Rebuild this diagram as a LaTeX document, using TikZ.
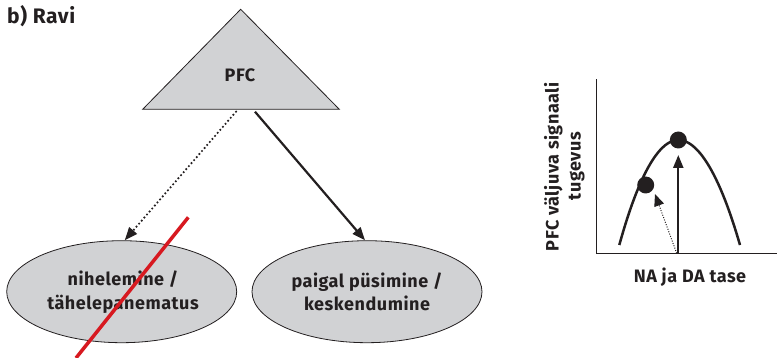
\documentclass[tikz,border=0pt]{standalone}
\usepackage{fontspec}
\setmainfont{Fira Sans}
\newfontfamily\lblfont[LetterSpace=3]{Fira Sans}
\usetikzlibrary{arrows.meta,shapes.geometric}
\definecolor{fillgray}{HTML}{D1D2D4}
\definecolor{txt}{HTML}{231F20}
\definecolor{crossred}{HTML}{D71920}
\tikzset{
  lbl/.style={text=txt,font=\lblfont\fontsize{18}{23.5}\selectfont\bfseries,align=center,inner sep=0pt},
  bubble/.style={ellipse,draw=txt,line width=0.8pt,fill=fillgray,minimum width=230pt,minimum height=102pt,inner sep=0pt},
  solidarr/.style={draw=txt,line width=2.2pt,-{Triangle[length=13pt,width=10pt]}},
  dotarr/.style={draw=txt,line width=2.4pt,line cap=round,dash pattern=on 0pt off 4pt,-{Triangle[length=13pt,width=10pt]}},
  dot/.style={circle,fill=txt,minimum size=17pt,inner sep=0pt}
}
\begin{document}
\begin{tikzpicture}[x=1pt,y=-1pt]
\useasboundingbox (0,0) rectangle (777,358);
% title
\node[lbl,anchor=base west,font=\lblfont\fontsize{21}{24}\selectfont\bfseries] (title) at (7,24) {b) Ravi};
% triangle
\draw[draw=txt,line width=0.8pt,fill=fillgray] (240.7,9.3) -- (339.3,109.3) -- (142.7,109.3) -- cycle;
\node[lbl] (pfc) at (240,75) {PFC};
\coordinate (dstart) at (236,111.7);
\coordinate (sstart) at (255,111.7);
% ellipses
\node[bubble] (e1) at (121.7,291.7) {};
\node[lbl] (t1) at (123,292) {nihelemine /\\tähelepanematus};
\node[bubble] (e2) at (367,291.7) {};
\node[lbl] (t2) at (367,292) {paigal püsimine /\\keskendumine};
% connectors
\draw[dotarr] (dstart) -- ([xshift=3pt]e1.north);
\draw[solidarr] (sstart) -- ([xshift=-2pt]e2.north);
% red cross line
\coordinate (r1) at (188.3,217.3);
\coordinate (r2) at (76,358);
\draw[crossred,line width=3.5pt] (r1) -- (r2);
% graph
\coordinate (origin) at (596.7,253.3);
\coordinate (ytop) at (596.7,79.3);
\coordinate (xend) at (777,253.3);
\draw[txt,line width=1.4pt] (ytop) -- (origin) -- (xend);
\draw[txt,line width=2.5pt] (619.3,245) parabola bend (678.3,140) (740,245);
\coordinate (sbase) at (678.3,253.3);
\coordinate (dbase) at (676.7,253.3);
\node[dot] (peak) at (678.3,140) {};
\node[dot] (side) at (645.7,185) {};
\draw[solidarr] (sbase) -- (678.3,155) coordinate (stip);
\draw[txt,line width=1pt,dash pattern=on 1pt off 1.5pt,-{Triangle[length=12pt,width=10pt]}] (dbase) -- (655,194) coordinate (dtip);
\node[lbl,rotate=90] (ylab1) at (553.3,166.7) {PFC väljuva signaali};
\node[lbl,rotate=90] (ylab2) at (576.7,166) {tugevus};
\node[lbl] (xlab) at (690,277) {NA ja DA tase};
\end{tikzpicture}
\end{document}
